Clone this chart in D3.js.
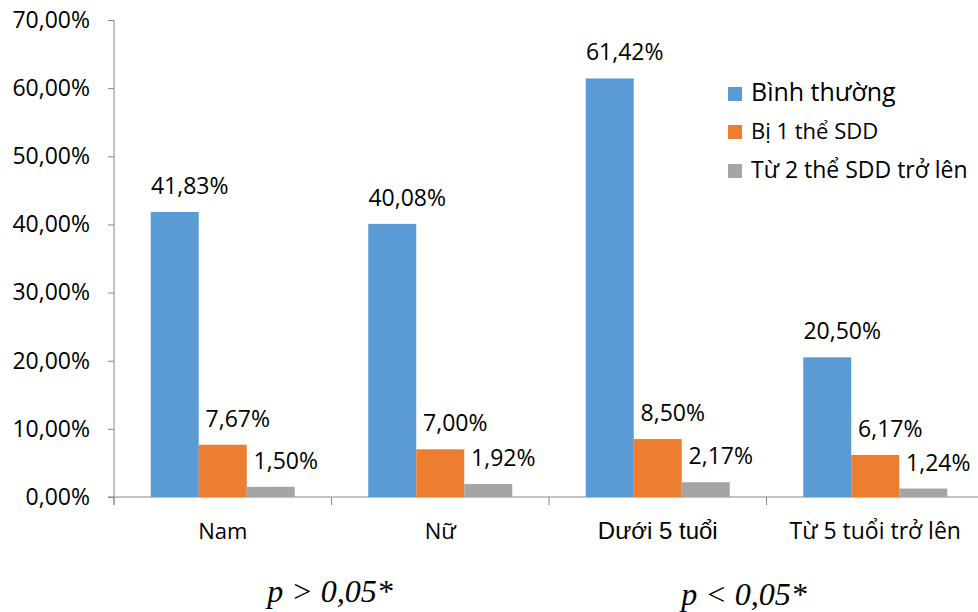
<!DOCTYPE html>
<html>
<head>
<meta charset="utf-8">
<script src="https://cdn.jsdelivr.net/npm/d3@7"></script>
<style>
  body { margin: 0; background: #fff; }
  text { fill: #000; }
</style>
</head>
<body>
<svg id="chart" width="978" height="612"></svg>
<script>
var categories = ["Nam", "Nữ", "Dưới 5 tuổi", "Từ 5 tuổi trở lên"];
var seriesNames = ["Bình thường", "Bị 1 thể SDD", "Từ 2 thể SDD trở lên"];
var binhThuong = [41.83, 40.08, 61.42, 20.50];
var bi1The = [7.67, 7.00, 8.50, 6.17];
var tu2The = [1.50, 1.92, 2.17, 1.24];
var yTicks = [0, 10, 20, 30, 40, 50, 60, 70];
var pLabels = ["p > 0,05*", "p < 0,05*"];
var colors = ["#5b9bd5", "#ed7d31", "#a5a5a5"];

(function() {
    var svg = d3.select("#chart");
    var left = 114, right = 984, top = 20, bottom = 497;
    var series = [binhThuong, bi1The, tu2The];
    var fmt = v => v.toFixed(2).replace(".", ",") + "%";

    var x0 = d3.scaleBand().domain(categories).range([left, right]);
    var x1 = d3.scaleBand().domain(d3.range(series.length))
        .range([0, 144]);
    var y = d3.scaleLinear().domain([0, 70]).range([bottom, top]);

    // y axis
    var yAxis = svg.append("g")
        .attr("transform", `translate(${left},0)`)
        .call(d3.axisLeft(y).tickValues(yTicks).tickSize(6).tickPadding(18)
            .tickFormat(d => d.toFixed(2).replace(".", ",") + "%"));
    yAxis.select(".domain").attr("stroke", "#868686").attr("d", `M0,${top}V${bottom + 8}`);
    yAxis.selectAll(".tick line").attr("stroke", "#868686");
    yAxis.selectAll(".tick text")
        .style("font-family", "'Open Sans'").style("font-size", "23px").attr("fill", "#000");

    // x axis line and ticks
    svg.append("line")
        .attr("x1", left - 6).attr("x2", 978)
        .attr("y1", bottom).attr("y2", bottom)
        .attr("stroke", "#868686");
    svg.selectAll(".xtick")
        .data(categories)
        .enter().append("line")
        .attr("x1", d => x0(d)).attr("x2", d => x0(d))
        .attr("y1", bottom).attr("y2", bottom + 8)
        .attr("stroke", "#868686");

    // bars + labels
    series.forEach(function(vals, s) {
        var g = svg.append("g");
        g.selectAll("rect")
            .data(vals)
            .enter().append("rect")
            .attr("x", (d, i) => x0(categories[i]) + x0.bandwidth() / 2 - 72 + x1(s))
            .attr("y", d => y(d))
            .attr("width", x1.bandwidth())
            .attr("height", d => bottom - y(d))
            .attr("fill", colors[s]);
        g.selectAll("text")
            .data(vals)
            .enter().append("text")
            .attr("x", (d, i) => x0(categories[i]) + x0.bandwidth() / 2 - 72 + x1(s) + x1.bandwidth() / 2 + 15)
            .attr("y", d => y(d) - 18)
            .attr("text-anchor", "middle")
            .style("font-family", "'Open Sans'")
            .style("font-size", "23px")
            .text(d => fmt(d));
    });

    // category labels
    svg.selectAll(".cat")
        .data(categories)
        .enter().append("text")
        .attr("x", d => x0(d) + x0.bandwidth() / 2)
        .attr("y", 539)
        .attr("text-anchor", "middle")
        .style("font-family", (d, i) => i === 2 ? "'Liberation Sans'" : "'Open Sans'")
        .style("font-size", (d, i) => i === 2 ? "24px" : (i === 3 ? "23px" : "22px"))
        .text(d => d);

    // legend
    var legendY = [101, 139, 178];
    var legendSize = ["25px", "22px", "23px"];
    var legend = svg.selectAll(".legend")
        .data(seriesNames)
        .enter().append("g");
    legend.append("rect")
        .attr("x", 728).attr("y", (d, i) => legendY[i] - 14)
        .attr("width", 14).attr("height", 14)
        .attr("fill", (d, i) => colors[i]);
    legend.append("text")
        .attr("x", 751).attr("y", (d, i) => legendY[i])
        .style("font-family", "'Open Sans'")
        .style("font-size", (d, i) => legendSize[i])
        .text(d => d);

    // p-values
    var pPos = [[330, 602], [744, 605]];
    svg.selectAll(".pval")
        .data(pLabels)
        .enter().append("text")
        .attr("x", (d, i) => pPos[i][0])
        .attr("y", (d, i) => pPos[i][1])
        .attr("text-anchor", "middle")
        .style("font-family", "'Liberation Serif'")
        .style("font-style", "italic")
        .style("font-size", "32px")
        .text(d => d);
})();
</script>
</body>
</html>
